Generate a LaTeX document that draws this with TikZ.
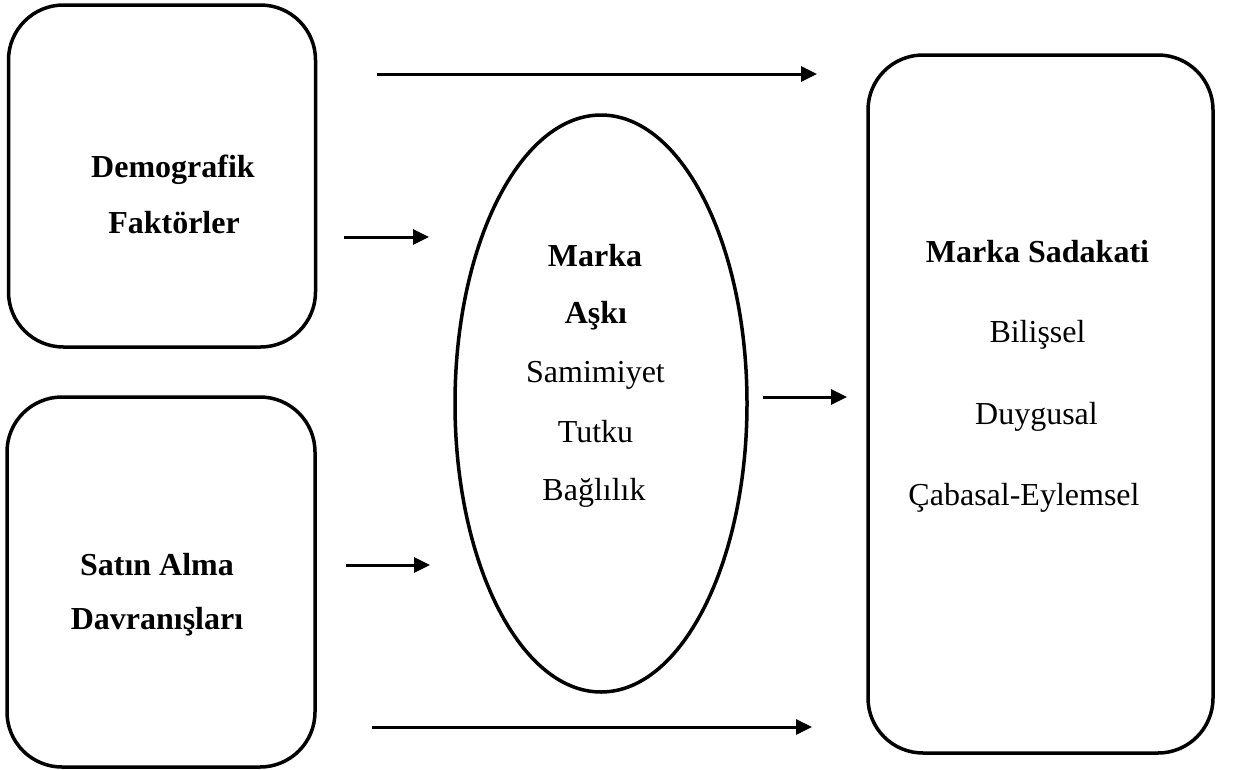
\documentclass[tikz,border=0pt]{standalone}
\usepackage{fontspec}
\setmainfont{Liberation Serif}
\usetikzlibrary{arrows.meta,shapes.geometric}
\begin{document}
\begin{tikzpicture}[x=1pt,y=-1pt,
  box/.style={draw,line width=3.5pt,rounded corners=55pt,inner sep=0pt},
  oval/.style={draw,ellipse,line width=3.5pt,inner sep=0pt},
  lbl/.style={anchor=base,inner sep=0pt,font=\fontsize{32}{38}\selectfont},
  blbl/.style={anchor=base,inner sep=0pt,font=\fontsize{32}{38}\selectfont\bfseries},
  arr/.style={line width=3pt,-{Triangle[length=16pt,width=15pt]}}]
\useasboundingbox (0,0) rectangle (1234,769);
% shapes
\node[box,minimum width=307pt,minimum height=342pt] (demo) at (162,176) {};
\node[box,minimum width=308pt,minimum height=370pt] (satin) at (161,582) {};
\node[oval,minimum width=292pt,minimum height=577pt] (ask) at (601,403.5) {};
\node[box,minimum width=345pt,minimum height=698pt] (sadakat) at (1040.5,404) {};
% texts
\node[blbl] (t1) at (173,177) {Demografik};
\node[blbl] (t2) at (174,233) {Faktörler};
\node[blbl] (t3) at (157,575) {Satın Alma};
\node[blbl] (t4) at (157,629) {Davranışları};
\node[blbl] (t5) at (595,266) {Marka};
\node[blbl] (t6) at (596,323) {Aşkı};
\node[lbl] (t7) at (595.5,382) {Samimiyet};
\node[lbl] (t8) at (595.5,442) {Tutku};
\node[lbl] (t9) at (594,500) {Bağlılık};
\node[blbl] (t10) at (1037.5,262) {Marka Sadakati};
\node[lbl] (t11) at (1037.5,342) {Bilişsel};
\node[lbl] (t12) at (1036.5,424) {Duygusal};
\node[lbl] (t13) at (1024,505) {Çabasal-Eylemsel};
% arrows
\coordinate (a1s) at (377,74);   \coordinate (a1e) at (817,74);
\coordinate (a2s) at (344,237);  \coordinate (a2e) at (429,237);
\coordinate (a3s) at (763,397);  \coordinate (a3e) at (847,397);
\coordinate (a4s) at (346,565);  \coordinate (a4e) at (430,565);
\coordinate (a5s) at (372,727);  \coordinate (a5e) at (812,727);
\draw[arr] (a1s) -- (a1e);
\draw[arr] (a2s) -- (a2e);
\draw[arr] (a3s) -- (a3e);
\draw[arr] (a4s) -- (a4e);
\draw[arr] (a5s) -- (a5e);
\end{tikzpicture}
\end{document}
